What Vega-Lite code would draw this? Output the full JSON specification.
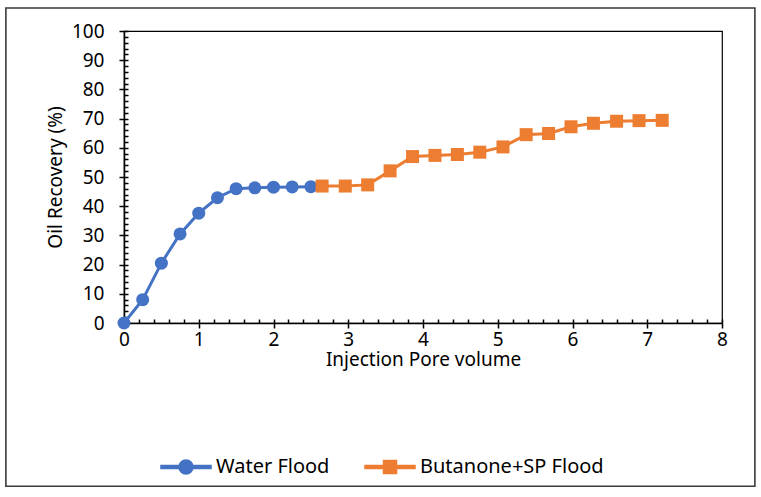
{
  "$schema": "https://vega.github.io/schema/vega-lite/v6.json",
  "width": 598,
  "height": 292,
  "autosize": "none",
  "padding": {"left": 124, "top": 31, "right": 39, "bottom": 174},
  "background": "white",
  "config": {
    "font": "Noto Sans",
    "view": {"stroke": "black", "strokeWidth": 1.2},
    "axis": {"labelFont": "Noto Sans", "titleFont": "Noto Sans", "labelColor": "black", "titleColor": "black", "labelFontSize": 19, "titleFontSize": 19, "titleFontWeight": "normal", "grid": false, "domainColor": "black", "tickColor": "black", "labelFlush": false, "labelOverlap": false},
    "legend": {"orient": "none", "legendX": 36, "legendY": 410, "direction": "horizontal", "symbolSize": 2500, "labelFontSize": 20, "labelFont": "Noto Sans", "labelColor": "black", "labelOffset": 4, "labelLimit": 0, "columnPadding": 32}
  },
  "data": {"values": [
    {"series": "Water Flood", "pv": 0, "rec": 0},
    {"series": "Water Flood", "pv": 0.25, "rec": 8},
    {"series": "Water Flood", "pv": 0.5, "rec": 20.5},
    {"series": "Water Flood", "pv": 0.75, "rec": 30.5},
    {"series": "Water Flood", "pv": 1.0, "rec": 37.6},
    {"series": "Water Flood", "pv": 1.25, "rec": 42.9},
    {"series": "Water Flood", "pv": 1.5, "rec": 46},
    {"series": "Water Flood", "pv": 1.75, "rec": 46.3},
    {"series": "Water Flood", "pv": 2.0, "rec": 46.5},
    {"series": "Water Flood", "pv": 2.25, "rec": 46.6},
    {"series": "Water Flood", "pv": 2.5, "rec": 46.7},
    {"series": "Butanone+SP Flood", "pv": 2.65, "rec": 46.9},
    {"series": "Butanone+SP Flood", "pv": 2.96, "rec": 46.9},
    {"series": "Butanone+SP Flood", "pv": 3.26, "rec": 47.3},
    {"series": "Butanone+SP Flood", "pv": 3.56, "rec": 52.1},
    {"series": "Butanone+SP Flood", "pv": 3.86, "rec": 57.0},
    {"series": "Butanone+SP Flood", "pv": 4.16, "rec": 57.4},
    {"series": "Butanone+SP Flood", "pv": 4.46, "rec": 57.7},
    {"series": "Butanone+SP Flood", "pv": 4.76, "rec": 58.5},
    {"series": "Butanone+SP Flood", "pv": 5.07, "rec": 60.3},
    {"series": "Butanone+SP Flood", "pv": 5.38, "rec": 64.5},
    {"series": "Butanone+SP Flood", "pv": 5.68, "rec": 64.9},
    {"series": "Butanone+SP Flood", "pv": 5.98, "rec": 67.2},
    {"series": "Butanone+SP Flood", "pv": 6.28, "rec": 68.4},
    {"series": "Butanone+SP Flood", "pv": 6.59, "rec": 69.1},
    {"series": "Butanone+SP Flood", "pv": 6.89, "rec": 69.3},
    {"series": "Butanone+SP Flood", "pv": 7.2, "rec": 69.4}
  ]},
  "resolve": {"axis": {"x": "independent", "y": "independent"}},
  "layer": [
    {
      "data": {"values": [{}]},
      "mark": {"type": "rect", "filled": false, "stroke": "#3a3a3a", "strokeWidth": 1.6, "clip": false},
      "encoding": {
        "x": {"datum": -1.58, "type": "quantitative", "scale": {"domain": [0, 8], "nice": false, "zero": false}, "axis": null},
        "x2": {"datum": 8.44},
        "y": {"datum": 107.9, "type": "quantitative", "scale": {"domain": [0, 100], "nice": false, "zero": false}, "axis": null},
        "y2": {"datum": -55.9}
      }
    },
    {
      "mark": {"type": "line", "strokeWidth": 3},
      "encoding": {
        "x": {"field": "pv", "type": "quantitative", "scale": {"domain": [0, 8], "nice": false, "zero": false},
              "axis": {"orient": "bottom", "values": [0,1,2,3,4,5,6,7,8], "tickSize": 5, "domainWidth": 1.5, "tickWidth": 1.5, "labelPadding": 2, "title": "Injection Pore volume", "titlePadding": 1}},
        "y": {"field": "rec", "type": "quantitative", "scale": {"domain": [0, 100], "nice": false, "zero": false},
              "axis": {"orient": "left", "values": [0,10,20,30,40,50,60,70,80,90,100], "tickSize": 5, "domainWidth": 1.5, "tickWidth": 1.5, "labelPadding": 15, "title": "Oil Recovery (%)", "titlePadding": 6}},
        "color": {"field": "series", "type": "nominal", "scale": {"domain": ["Water Flood", "Butanone+SP Flood"], "range": ["#4472C4", "#ED7D31"]}},
        "detail": {"field": "series"}
      }
    },
    {
      "transform": [{"filter": "datum.series === 'Water Flood'"}],
      "mark": {"type": "point", "filled": true, "opacity": 1, "size": 169, "shape": "circle"},
      "encoding": {
        "x": {"field": "pv", "type": "quantitative", "scale": {"domain": [0, 8], "nice": false, "zero": false}, "axis": null},
        "y": {"field": "rec", "type": "quantitative", "scale": {"domain": [0, 100], "nice": false, "zero": false}, "axis": null},
        "color": {"field": "series", "type": "nominal"}
      }
    },
    {
      "transform": [{"filter": "datum.series === 'Butanone+SP Flood'"}],
      "mark": {"type": "point", "filled": true, "opacity": 1, "size": 169, "shape": "square"},
      "encoding": {
        "x": {"field": "pv", "type": "quantitative", "scale": {"domain": [0, 8], "nice": false, "zero": false}, "axis": null},
        "y": {"field": "rec", "type": "quantitative", "scale": {"domain": [0, 100], "nice": false, "zero": false}, "axis": null},
        "color": {"field": "series", "type": "nominal"}
      }
    },
    {
      "transform": [{"filter": "datum.pv < 0"}],
      "mark": {"type": "point", "filled": true, "opacity": 1},
      "encoding": {
        "x": {"field": "pv", "type": "quantitative", "scale": {"domain": [0, 8], "nice": false, "zero": false},
              "axis": {"orient": "bottom", "offset": -4, "values": [0,0.2,0.4,0.6,0.8,1,1.2,1.4,1.6,1.8,2,2.2,2.4,2.6,2.8,3,3.2,3.4,3.6,3.8,4,4.2,4.4,4.6,4.8,5,5.2,5.4,5.6,5.8,6,6.2,6.4,6.6,6.8,7,7.2,7.4,7.6,7.8,8], "tickSize": 4, "tickWidth": 1.5, "labels": false, "domain": false, "title": null}},
        "y": {"field": "rec", "type": "quantitative", "scale": {"domain": [0, 100], "nice": false, "zero": false},
              "axis": {"orient": "left", "offset": -4, "values": [0,2,4,6,8,10,12,14,16,18,20,22,24,26,28,30,32,34,36,38,40,42,44,46,48,50,52,54,56,58,60,62,64,66,68,70,72,74,76,78,80,82,84,86,88,90,92,94,96,98,100], "tickSize": 4, "tickWidth": 1.5, "labels": false, "domain": false, "title": null}},
        "color": {"field": "series", "type": "nominal", "legend": {"title": null}},
        "shape": {"field": "series", "type": "nominal",
                  "scale": {"domain": ["Water Flood", "Butanone+SP Flood"], "range": [
                    "M-1,-0.06H1V0.06H-1Z M0.28,0A0.28,0.28 0 1,1 -0.28,0A0.28,0.28 0 1,1 0.28,0Z",
                    "M-1,-0.06H1V0.06H-1Z M-0.26,-0.26H0.26V0.26H-0.26Z"]},
                  "legend": {"title": null}}
      }
    }
  ]
}
